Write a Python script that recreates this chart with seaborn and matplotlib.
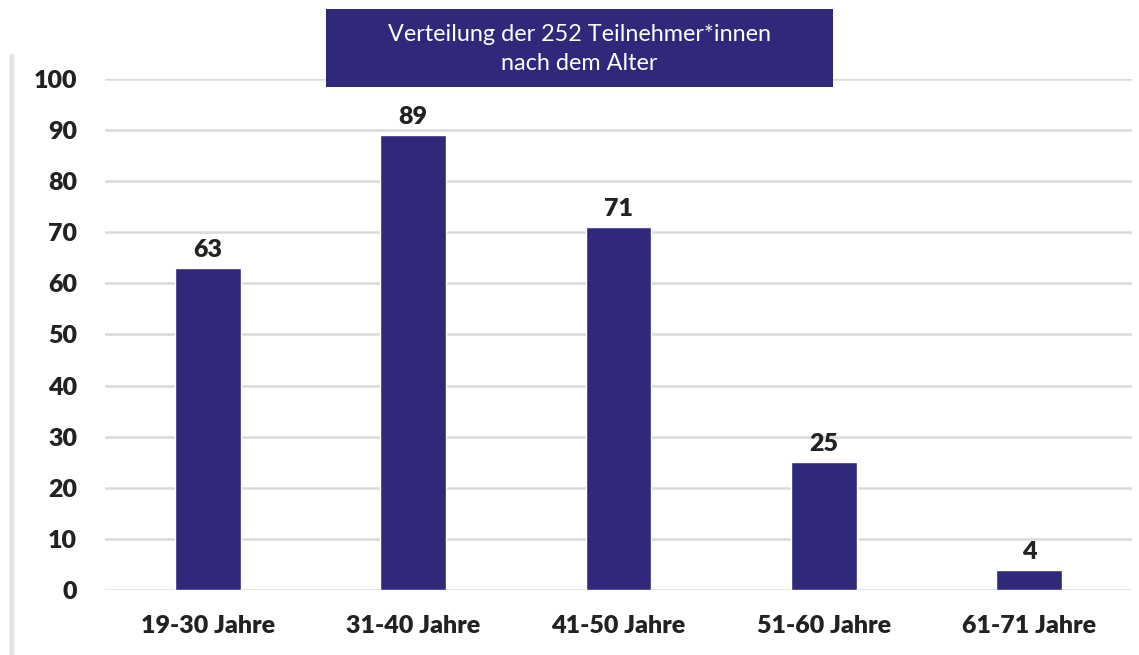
import matplotlib
matplotlib.use("Agg")
import matplotlib.pyplot as plt
import seaborn as sns
import pandas as pd
from matplotlib.lines import Line2D
from matplotlib.patches import Rectangle

categories = ["19-30 Jahre", "31-40 Jahre", "41-50 Jahre", "51-60 Jahre", "61-71 Jahre"]
values = [63, 89, 71, 25, 4]
yticks = [0, 10, 20, 30, 40, 50, 60, 70, 80, 90, 100]
title = "Verteilung der 252 Teilnehmer*innen\nnach dem Alter"

bar_color = "#30287A"

sns.set_theme(style="white")
plt.rcParams["font.family"] = ["Lato", "DejaVu Sans"]

df = pd.DataFrame({"cat": categories, "val": values})

fig = plt.figure(figsize=(11.39, 6.55), dpi=100)
ax = fig.add_axes([105/1139, 1-590/655, (1132-105)/1139, (590-79)/655])

sns.barplot(data=df, x="cat", y="val", color=bar_color, width=0.32,
            saturation=1, ax=ax, zorder=3)
ax.set_ylim(0, 100)
ax.set_yticks(yticks)
ax.set_xlim(-0.5, len(categories) - 0.5)
ax.grid(axis="y", color="#D9D9D9", linewidth=1.8, zorder=0)
ax.set_axisbelow(True)
for s in ax.spines.values():
    s.set_visible(False)
ax.set_xlabel("")
ax.set_ylabel("")
ax.tick_params(axis="both", length=0, labelsize=18, colors="#222222")
ax.tick_params(axis="y", pad=20)
ax.tick_params(axis="x", pad=18)
for lab in ax.get_xticklabels() + ax.get_yticklabels():
    lab.set_fontweight("heavy")

for i, v in enumerate(values):
    ax.annotate(str(v), (i, v), xytext=(0, 5), textcoords="offset points",
                ha="center", va="bottom", fontsize=18, fontweight="heavy",
                color="#222222")

# left shadow edge
fig.add_artist(Line2D([11/1139, 11/1139], [0, 1-55/655], transform=fig.transFigure,
                      color="#C4C4C4", linewidth=2.5, alpha=0.5))
fig.add_artist(Line2D([13/1139, 13/1139], [0, 1-55/655], transform=fig.transFigure,
                      color="#E4E4E4", linewidth=2, alpha=0.7))

# title box
fig.add_artist(Rectangle((326/1139, 1-87/655), (833-326)/1139, (87-9)/655,
                         transform=fig.transFigure, facecolor=bar_color,
                         edgecolor="none", zorder=10))
fig.text((326+833)/2/1139, 1-49/655, title, ha="center", va="center",
         color="white", fontsize=16.8, linespacing=1.45, zorder=11)

fig.savefig("out.png", dpi=100)
